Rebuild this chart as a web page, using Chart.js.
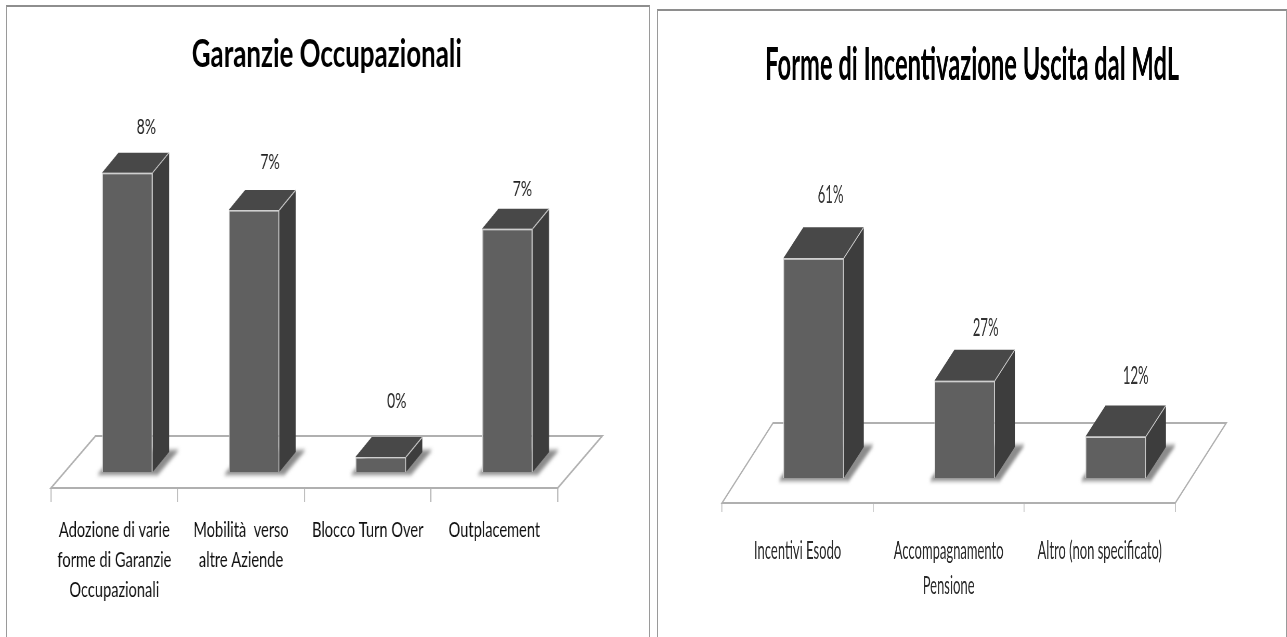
<!DOCTYPE html>
<html>
<head>
<meta charset="utf-8">
<script src="https://cdn.jsdelivr.net/npm/chart.js@4"></script>
<style>
    html, body { margin: 0; background: #fff; overflow: hidden; }
    body { width: 1287px; height: 637px; position: relative; }
    .frame { position: absolute; box-sizing: border-box; border: 1px solid #9a9a9a; border-top: 2px solid #8e8e8e; border-bottom: none; }
    .squeeze { position: absolute; transform-origin: 0 0; }
    canvas { display: block; }
</style>
</head>
<body>
<div class="frame" style="left:6px;top:5px;width:644px;height:632px"></div>
<div class="frame" style="left:657px;top:9px;width:630px;height:628px"></div>
<div class="squeeze" id="wrapLeft"><canvas id="chartLeft"></canvas></div>
<div class="squeeze" id="wrapRight"><canvas id="chartRight"></canvas></div>

<script>
const leftTitle = 'Garanzie Occupazionali';
const leftCategories = [
    ['Adozione di varie', 'forme di Garanzie', 'Occupazionali'],
    ['Mobilità  verso', 'altre Aziende'],
    'Blocco Turn Over',
    'Outplacement'
];
const leftValues = [8.0, 7.0, 0.4, 6.5];

const rightTitle = 'Forme di Incentivazione Uscita dal MdL';
const rightCategories = ['Incentivi Esodo', ['Accompagnamento', 'Pensione'], 'Altro (non specificato)'];
const rightValues = [61, 27, 11.5];

const fontName = 'Lato, "Open Sans", sans-serif';

// the original is a squashed screenshot, so every canvas is drawn wide and pressed with scaleX
function box3d(chart, ctx, o) {
    const k = o.squeeze;
    const a = chart.chartArea;
    const bars = chart.getDatasetMeta(0).data;
    const left = a.left, right = a.right, bottom = a.bottom;
    const fx = o.floorDx / k, fy = o.floorDy;

    // floor
    ctx.save();
    ctx.beginPath();
    ctx.moveTo(left, bottom);
    ctx.lineTo(left + fx, bottom - fy);
    ctx.lineTo(right + fx, bottom - fy);
    ctx.lineTo(right, bottom);
    ctx.closePath();
    ctx.fillStyle = '#fff';
    ctx.fill();
    ctx.strokeStyle = '#b0b0b0';
    ctx.lineWidth = 2;
    ctx.stroke();
    ctx.restore();

    const sx = o.shiftX / k, sy = o.shiftY;
    const dx = o.depthX / k, dy = o.depthY;

    // soft shadow under each bar
    ctx.save();
    ctx.translate(sx, sy);
    ctx.filter = 'blur(2px)';
    ctx.fillStyle = '#8c8c8c';
    bars.forEach(function (b) {
        const l = b.x - b.width / 2, r = b.x + b.width / 2;
        const m = 5 / k;
        ctx.beginPath();
        ctx.moveTo(l - m, b.base + 3);
        ctx.lineTo(l + dx, b.base - dy - 2);
        ctx.lineTo(r + dx + m * 2, b.base - dy - 2);
        ctx.lineTo(r + m, b.base + 3);
        ctx.closePath();
        ctx.fill();
    });
    ctx.restore();

    // side and top faces, the front face comes from the bar itself
    ctx.save();
    ctx.translate(sx, sy);
    bars.forEach(function (b) {
        const l = b.x - b.width / 2, r = b.x + b.width / 2;
        ctx.strokeStyle = '#cfcfcf';
        ctx.lineWidth = 1.2;
        ctx.lineJoin = 'round';

        ctx.beginPath();
        ctx.moveTo(r, b.y);
        ctx.lineTo(r + dx, b.y - dy);
        ctx.lineTo(r + dx, b.base - dy);
        ctx.lineTo(r, b.base);
        ctx.closePath();
        ctx.fillStyle = '#3d3d3d';
        ctx.fill();

        ctx.beginPath();
        ctx.moveTo(l, b.y);
        ctx.lineTo(l + dx, b.y - dy);
        ctx.lineTo(r + dx, b.y - dy);
        ctx.lineTo(r, b.y);
        ctx.closePath();
        ctx.fillStyle = '#484848';
        ctx.fill();

        ctx.beginPath();
        ctx.moveTo(r, b.y);
        ctx.lineTo(r + dx, b.y - dy);
        ctx.stroke();
    });
}

const solidBars = {
    id: 'solidBars',
    beforeDatasetsDraw(chart, args, o) {
        box3d(chart, chart.ctx, o);
    },
    afterDatasetsDraw(chart, args, o) {
        const ctx = chart.ctx;
        ctx.restore();
        // percent labels above the bars
        ctx.save();
        ctx.font = o.labelSize + 'px ' + fontName;
        ctx.fillStyle = o.labelColor;
        ctx.textAlign = 'center';
        ctx.textBaseline = 'middle';
        const values = chart.data.datasets[0].data;
        chart.getDatasetMeta(0).data.forEach(function (b, i) {
            const x = b.x + (o.shiftX + o.labelDx[i]) / o.squeeze;
            const y = b.y + o.shiftY - o.depthY - o.labelLift[i];
            ctx.fillText(Math.round(values[i]) + '%', x, y);
        });
        ctx.restore();
    }
};

// blank side axes hold the plot in place and leave the title centred on the whole panel
function sideAxis(position, width, max) {
    return {
        display: true,
        position: position,
        min: 0,
        max: max,
        grid: { display: false },
        border: { display: false },
        ticks: { display: false },
        afterFit(scale) { scale.width = width; }
    };
}

function makeChart(id, wrapId, cfg) {
    const canvas = document.getElementById(id);
    const wrap = document.getElementById(wrapId);
    const k = cfg.squeeze;
    canvas.width = Math.round(cfg.w / k);
    canvas.height = cfg.h;
    wrap.style.left = cfg.x + 'px';
    wrap.style.top = '0px';
    wrap.style.transform = 'scaleX(' + k + ')';

    return new Chart(canvas, {
        type: 'bar',
        data: {
            labels: cfg.categories,
            datasets: [{
                data: cfg.values,
                backgroundColor: '#606060',
                borderColor: '#cfcfcf',
                borderWidth: 1.5,
                barPercentage: 0.4,
                categoryPercentage: 1,
                clip: false
            }]
        },
        options: {
            responsive: false,
            animation: false,
            plugins: {
                legend: { display: false },
                tooltip: { enabled: false },
                title: {
                    display: true,
                    text: cfg.title,
                    color: '#000',
                    font: { family: fontName, size: cfg.titleSize, weight: 'bold', lineHeight: 1.2 },
                    padding: { top: cfg.titleTop, bottom: cfg.titleBottom }
                },
                solidBars: cfg.solid
            },
            scales: {
                x: {
                    border: { color: '#b0b0b0', width: 2 },
                    grid: { drawOnChartArea: false, drawTicks: true, color: '#b0b0b0', tickLength: cfg.tickLength, lineWidth: 1.5 },
                    ticks: {
                        maxRotation: 0,
                        autoSkip: false,
                        padding: cfg.tickPadding,
                        color: cfg.tickColor,
                        font: { family: fontName, size: cfg.tickSize, lineHeight: cfg.tickLine }
                    },
                    afterFit(scale) { scale.height = cfg.h - cfg.plotBottom; }
                },
                y: sideAxis('left', (cfg.plotLeft - cfg.x) / k, cfg.yMax),
                yRight: sideAxis('right', (cfg.x + cfg.w - cfg.plotRight) / k, cfg.yMax)
            }
        },
        plugins: [solidBars]
    });
}

makeChart('chartLeft', 'wrapLeft', {
    x: 0, w: 654, h: 637, squeeze: 0.665,
    categories: leftCategories, values: leftValues, title: leftTitle,
    plotLeft: 51, plotRight: 558, plotBottom: 488, yMax: 10,
    titleSize: 39, titleTop: 31, titleBottom: 36,
    tickLength: 14, tickPadding: 13, tickSize: 22, tickLine: 1.36, tickColor: '#111',
    solid: {
        squeeze: 0.665, floorDx: 44.5, floorDy: 52, shiftX: 13, shiftY: -16, depthX: 16.4, depthY: 20,
        labelSize: 21, labelColor: '#222', labelDx: [19, 16, 16, 15], labelLift: [25, 28, 36, 20]
    }
});

makeChart('chartRight', 'wrapRight', {
    x: 657, w: 630, h: 637, squeeze: 0.52,
    categories: rightCategories, values: rightValues, title: rightTitle,
    plotLeft: 722, plotRight: 1175, plotBottom: 503, yMax: 100,
    titleSize: 45.6, titleTop: 38, titleBottom: 50,
    tickLength: 9, tickPadding: 21, tickSize: 25, tickLine: 1.4, tickColor: '#2a2a2a',
    solid: {
        squeeze: 0.52, floorDx: 51, floorDy: 80, shiftX: 16, shiftY: -25, depthX: 20, depthY: 31,
        labelSize: 25.3, labelColor: '#333', labelDx: [17, 21, 20], labelLift: [32, 22, 30]
    }
});
</script>
</body>
</html>
